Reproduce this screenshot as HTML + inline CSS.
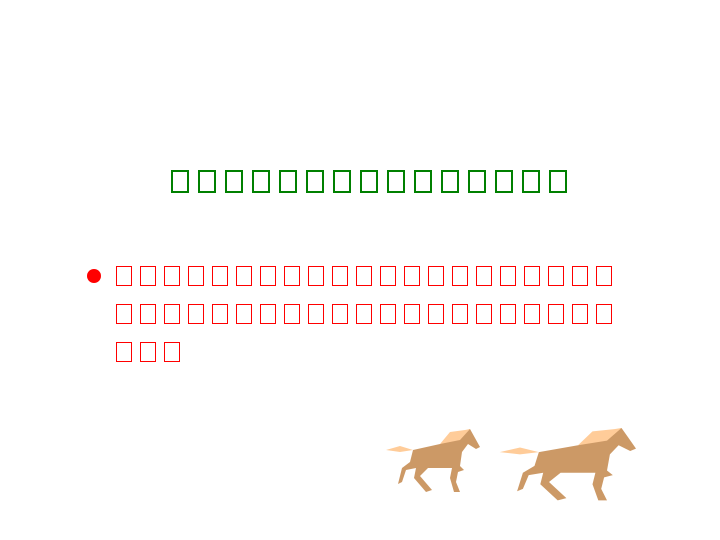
<!DOCTYPE html>
<html><head><meta charset="utf-8"><style>
body{margin:0;width:720px;height:540px;background:#fff;position:relative;overflow:hidden;font-family:"Liberation Sans","Noto Sans CJK SC",sans-serif}
.g{position:absolute;width:14px;height:19px;border:2px solid #008000;top:170px}
.r{position:absolute;width:14px;height:18px;border:1px solid #ff0000}
</style></head><body>
<div id="title"></div>
<div id="body"></div>
<div style="position:absolute;left:87px;top:269px;width:14px;height:14px;border-radius:50%;background:#f00"></div>
<svg width="720" height="540" style="position:absolute;left:0;top:0">
<defs><g id="h">
<path d="M33,30 L20,26 L6,30 L20,32 Z" fill="#ffcc99"/>
<path d="M33,30 L60,24 L70,20 L82,12 L90,9 L95,18 L100,27 L96,29 L88,24 L82,32 L80,46 L84,50 L78,52 L76,62 L80,72 L74,72 L70,58 L72,48 L48,48 L40,56 L52,70 L46,72 L34,58 L36,48 L26,50 L22,62 L18,64 L22,48 L30,42 Z" fill="#cc9966"/>
<path d="M60,24 L70,12 L85,10 L90,9 L80,20 Z" fill="#ffcc99"/>
</g></defs>
<use href="#h" transform="translate(380,420)"/>
<use href="#h" transform="translate(491,417.6) scale(1.45,1.15)"/>
</svg>
<script>
const t=document.getElementById('title');
for(let i=0;i<15;i++){const d=document.createElement('span');d.className='g';d.style.left=(171+i*27)+'px';


t.appendChild(d);}
const b=document.getElementById('body');
const rows=[21,21,3];
rows.forEach((n,ri)=>{for(let i=0;i<n;i++){const d=document.createElement('span');d.className='r';d.style.left=(116+i*24)+'px';d.style.top=(266+ri*38)+'px';


b.appendChild(d);}});
</script>
</body></html>
